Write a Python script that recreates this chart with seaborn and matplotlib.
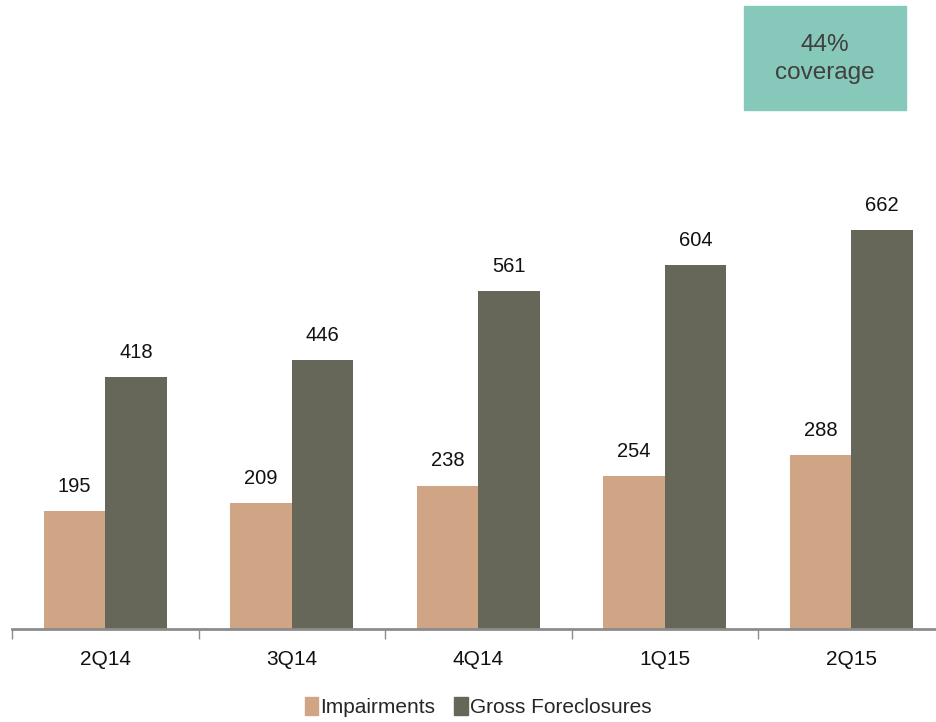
import matplotlib
matplotlib.use("Agg")
import matplotlib.pyplot as plt
import seaborn as sns
import pandas as pd
from matplotlib.patches import Rectangle

quarters = ["2Q14", "3Q14", "4Q14", "1Q15", "2Q15"]
impairments = [195, 209, 238, 254, 288]
gross_foreclosures = [418, 446, 561, 604, 662]
series_names = ["Impairments", "Gross Foreclosures"]
colors = ["#CFA586", "#666759"]

df = pd.DataFrame({
    "quarter": quarters * 2,
    "value": impairments + gross_foreclosures,
    "series": [series_names[0]] * 5 + [series_names[1]] * 5,
})

sns.set_theme(style="white")
plt.rcParams['font.family'] = ['Liberation Sans Narrow', 'Liberation Sans', 'DejaVu Sans']

fig = plt.figure(figsize=(9.36, 7.22), dpi=100)
ax = fig.add_axes([12/936, 93/722, 932.5/936, 422/722])

sns.barplot(data=df, x="quarter", y="value", hue="series", palette=colors,
            width=0.66, ax=ax, saturation=1, legend=False, linewidth=0)

ax.set_ylim(0, 700)
ax.set_xlim(-0.5, 4.5)
for c in ax.containers:
    for bar in c:
        h = bar.get_height()
        ax.annotate(f"{int(round(h))}", (bar.get_x() + bar.get_width()/2, h),
                    xytext=(0, 11), textcoords="offset points",
                    ha="center", va="bottom", fontsize=14.5, color="#111111")

for s in ["top", "right", "left"]:
    ax.spines[s].set_visible(False)
ax.spines["bottom"].set_color("#8C8C8C")
ax.spines["bottom"].set_linewidth(2)
ax.set_yticks([])
ax.set_xlabel("")
ax.set_ylabel("")
ax.set_xticks(range(5))
ax.set_xticklabels(quarters, fontsize=15, color="#111111")
ax.tick_params(axis="x", length=0, pad=15)
ax.set_xticks([i - 0.5 for i in range(6)], minor=True)
ax.tick_params(axis="x", which="minor", length=7, width=1, color="#8C8C8C", bottom=True)

handles = [Rectangle((0, 0), 1, 1, color=c) for c in colors]
fig.legend(handles, series_names, loc="center", bbox_to_anchor=(478/936, 1 - 707/722),
           ncol=2, frameon=False, fontsize=15, handlelength=0.65, handleheight=1.0,
           handletextpad=0.1, columnspacing=0.9)

fig.patches.append(Rectangle((744/936, 1 - 110/722), 162/936, 104/722,
                             transform=fig.transFigure, color="#86C8B9", zorder=0))
fig.text(825/936, 1 - 59/722, "44%\ncoverage", ha="center", va="center",
         fontsize=17.5, color="#404040", family=["Liberation Sans", "DejaVu Sans"],
         linespacing=1.3)

fig.savefig("out.png", dpi=100)
